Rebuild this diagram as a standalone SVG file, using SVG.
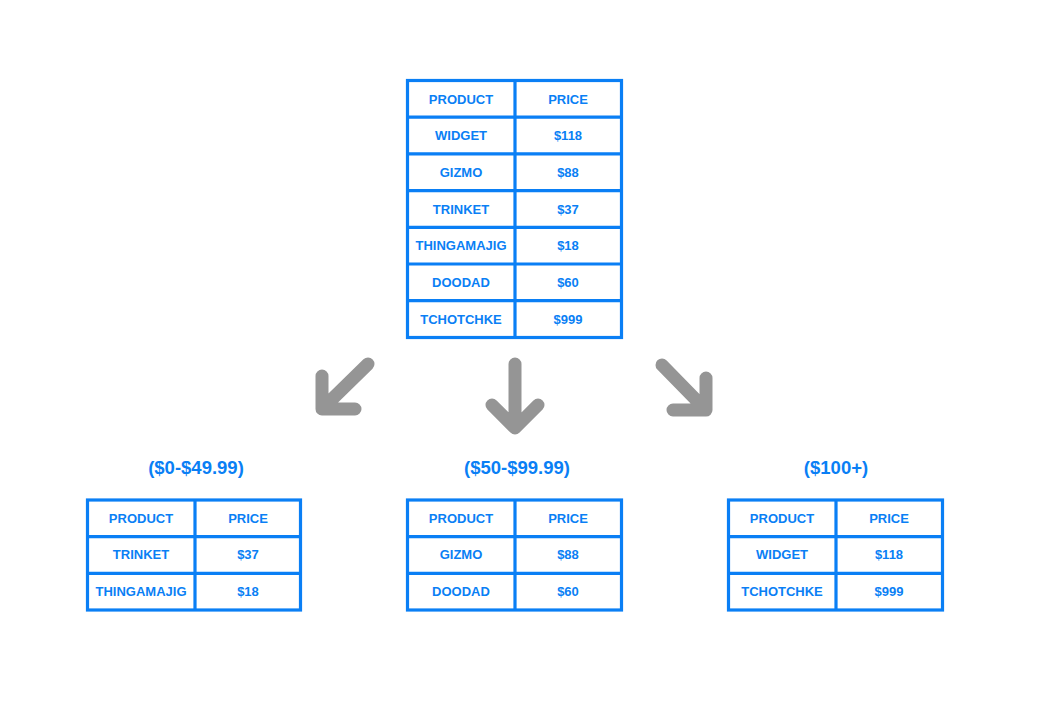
<svg xmlns="http://www.w3.org/2000/svg" width="1039" height="722" viewBox="0 0 1039 722">
<style>
.grid{fill:#fff;stroke:#0a7ff5;stroke-width:3.2}
.t{font-family:"Liberation Sans",Arial,sans-serif;font-weight:bold;font-size:13px;fill:#0a7ff5;text-anchor:middle;dominant-baseline:central}
.h{font-family:"Liberation Sans",Arial,sans-serif;font-weight:bold;font-size:18.5px;fill:#0a7ff5;text-anchor:middle;dominant-baseline:central}
.arr{fill:none;stroke:#959595;stroke-width:13;stroke-linecap:round;stroke-linejoin:round}
</style>
<rect width="1039" height="722" fill="#fff"/>
<g id="table-all">
<rect class="grid" x="407.5" y="80.5" width="214" height="257"/>
<path class="grid" d="M515 80.5V337.5M407.5 117.2H621.5M407.5 153.9H621.5M407.5 190.6H621.5M407.5 227.3H621.5M407.5 264H621.5M407.5 300.7H621.5"/>
<text class="t" x="461" y="99">PRODUCT</text><text class="t" x="568" y="99">PRICE</text>
<text class="t" x="461" y="135.5">WIDGET</text><text class="t" x="568" y="135.5">$118</text>
<text class="t" x="461" y="172.2">GIZMO</text><text class="t" x="568" y="172.2">$88</text>
<text class="t" x="461" y="209">TRINKET</text><text class="t" x="568" y="209">$37</text>
<text class="t" x="461" y="245.6">THINGAMAJIG</text><text class="t" x="568" y="245.6">$18</text>
<text class="t" x="461" y="282.3">DOODAD</text><text class="t" x="568" y="282.3">$60</text>
<text class="t" x="461" y="319">TCHOTCHKE</text><text class="t" x="568" y="319">$999</text>
</g>
<g id="connectors">
<path class="arr" d="M368 364L322 409M322 376V409H355"/>
<path class="arr" d="M515 364V428M492 405L515 428L538 405"/>
<path class="arr" d="M662 365L706 410M706 378V410H673"/>
</g>
<g id="table-low">
<text class="h" x="196" y="467">($0-$49.99)</text>
<rect class="grid" x="87.5" y="500" width="213" height="110"/>
<path class="grid" d="M195 500V610M87.5 536.7H300.5M87.5 573.3H300.5"/>
<text class="t" x="141" y="518">PRODUCT</text><text class="t" x="248" y="518">PRICE</text>
<text class="t" x="141" y="554.5">TRINKET</text><text class="t" x="248" y="554.5">$37</text>
<text class="t" x="141" y="591">THINGAMAJIG</text><text class="t" x="248" y="591">$18</text>
</g>
<g id="table-mid">
<text class="h" x="517" y="467">($50-$99.99)</text>
<rect class="grid" x="407.5" y="500" width="214" height="110"/>
<path class="grid" d="M515 500V610M407.5 536.7H621.5M407.5 573.3H621.5"/>
<text class="t" x="461" y="518">PRODUCT</text><text class="t" x="568" y="518">PRICE</text>
<text class="t" x="461" y="554.5">GIZMO</text><text class="t" x="568" y="554.5">$88</text>
<text class="t" x="461" y="591">DOODAD</text><text class="t" x="568" y="591">$60</text>
</g>
<g id="table-high">
<text class="h" x="836" y="467">($100+)</text>
<rect class="grid" x="728.5" y="500" width="214" height="110"/>
<path class="grid" d="M836 500V610M728.5 536.7H942.5M728.5 573.3H942.5"/>
<text class="t" x="782" y="518">PRODUCT</text><text class="t" x="889" y="518">PRICE</text>
<text class="t" x="782" y="554.5">WIDGET</text><text class="t" x="889" y="554.5">$118</text>
<text class="t" x="782" y="591">TCHOTCHKE</text><text class="t" x="889" y="591">$999</text>
</g>
</svg>
